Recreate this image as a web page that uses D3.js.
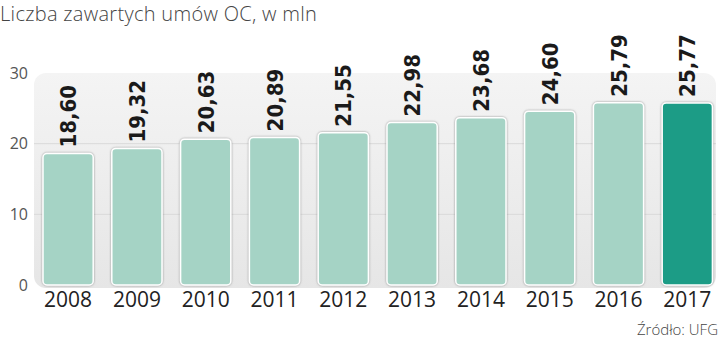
<!DOCTYPE html>
<html>
<head>
<meta charset="utf-8">
<script src="https://cdn.jsdelivr.net/npm/d3@7"></script>
<style>
  body { margin: 0; background: #fff; }
  svg { display: block; }
</style>
</head>
<body>
<script>
// data
var years = ["2008", "2009", "2010", "2011", "2012", "2013", "2014", "2015", "2016", "2017"]
var values = [18.60, 19.32, 20.63, 20.89, 21.55, 22.98, 23.68, 24.60, 25.79, 25.77]
var yTicks = [0, 10, 20, 30]
var highlightYear = "2017"

var width = 720
var height = 341

var svg = d3.select("body")
            .append("svg")
            .attr("width", width)
            .attr("height", height)

var defs = svg.append("defs")

var grad = defs.append("linearGradient")
               .attr("id", "panelGrad")
               .attr("x1", 0).attr("y1", 0)
               .attr("x2", 0).attr("y2", 1)
grad.append("stop").attr("offset", "0%").attr("stop-color", "#f4f4f4")
grad.append("stop").attr("offset", "100%").attr("stop-color", "#e6e6e6")

var shadow = defs.append("filter")
                 .attr("id", "barShadow")
                 .attr("x", "-20%").attr("y", "-20%")
                 .attr("width", "140%").attr("height", "140%")
shadow.append("feDropShadow")
      .attr("dx", 0).attr("dy", 0)
      .attr("stdDeviation", 1.2)
      .attr("flood-color", "#777")
      .attr("flood-opacity", 0.8)

// scales
var xScale = d3.scaleBand()
               .domain(years)
               .range([33.7, 721.7])
               .paddingInner(0.27)
               .paddingOuter(0.135)

var yScale = d3.scaleLinear()
               .domain([0, 30])
               .range([285, 73])

// background panel
svg.append("rect")
   .attr("x", 34)
   .attr("y", yScale(30))
   .attr("width", 682)
   .attr("height", yScale(0) - yScale(30) + 3)
   .attr("rx", 12)
   .attr("fill", "url(#panelGrad)")

// gridlines
svg.selectAll(".grid")
   .data(yTicks.filter(function(d){ return d > 0 && d < 30 }))
   .enter()
   .append("line")
   .attr("class", "grid")
   .attr("x1", 34)
   .attr("x2", 716)
   .attr("y1", function(d){ return yScale(d) })
   .attr("y2", function(d){ return yScale(d) })
   .attr("stroke", "#d9d9d9")
   .attr("stroke-width", 1)

// y axis labels
var yAxis = d3.axisLeft(yScale)
              .tickValues(yTicks)
              .tickSize(0)
              .tickPadding(0)
var gy = svg.append("g")
            .attr("transform", "translate(28,0)")
            .call(yAxis)
gy.select(".domain").remove()
gy.selectAll("text")
  .attr("font-family", "'Open Sans', sans-serif")
  .attr("font-size", 16)
  .attr("fill", "#555")

// bars
svg.selectAll(".bar")
   .data(values)
   .enter()
   .append("rect")
   .attr("class", "bar")
   .attr("x", function(d, i){ return xScale(years[i]) })
   .attr("y", function(d){ return yScale(d) })
   .attr("width", xScale.bandwidth())
   .attr("height", function(d){ return yScale(0) - yScale(d) })
   .attr("rx", 4)
   .attr("fill", function(d, i){ return years[i] == highlightYear ? "#1b9c86" : "#a5d3c5" })
   .attr("stroke", "#fff")
   .attr("stroke-width", 1.5)
   .attr("filter", "url(#barShadow)")

// value labels
svg.selectAll(".val")
   .data(values)
   .enter()
   .append("text")
   .attr("class", "val")
   .attr("transform", function(d, i){
      var x = xScale(years[i]) + xScale.bandwidth() / 2 + 8
      var y = yScale(d) - 6
      return "translate(" + x + "," + y + ") rotate(-90)"
   })
   .attr("font-family", "'DejaVu Sans Condensed', 'DejaVu Sans', sans-serif")
   .attr("font-stretch", "condensed")
   .attr("font-weight", "bold")
   .attr("font-size", 22)
   .attr("fill", "#1a1a1a")
   .text(function(d){ return d.toFixed(2).replace(".", ",") })

// x axis labels
var xAxis = d3.axisBottom(xScale)
              .tickSize(0)
              .tickPadding(0)
var gx = svg.append("g")
            .attr("transform", "translate(0,292)")
            .call(xAxis)
gx.select(".domain").remove()
gx.selectAll("text")
  .attr("font-family", "'Open Sans', sans-serif")
  .attr("font-size", 21)
  .attr("fill", "#222")

// title
svg.append("text")
   .attr("x", 0)
   .attr("y", 21)
   .attr("font-family", "'Open Sans', sans-serif")
   .attr("font-weight", 300)
   .attr("font-size", 20)
   .attr("letter-spacing", 0.3)
   .attr("fill", "#444")
   .text("Liczba zawartych umów OC, w mln")

// source
svg.append("text")
   .attr("x", 718)
   .attr("y", 335)
   .attr("text-anchor", "end")
   .attr("font-family", "'Open Sans', sans-serif")
   .attr("font-weight", 300)
   .attr("font-size", 15)
   .attr("fill", "#444")
   .text("Źródło: UFG")
</script>
</body>
</html>
